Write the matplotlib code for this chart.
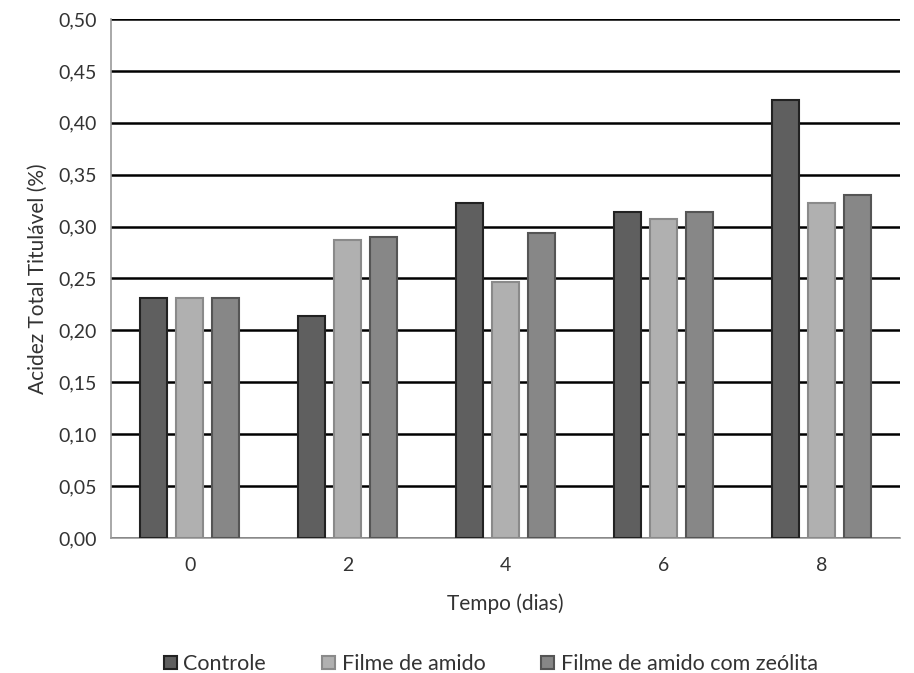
import matplotlib
matplotlib.use("Agg")
import matplotlib.pyplot as plt
import numpy as np

plt.rcParams['font.family'] = ['Lato', 'DejaVu Sans']

# data
dias = ["0", "2", "4", "6", "8"]
controle = [0.231, 0.214, 0.323, 0.314, 0.422]
filme = [0.231, 0.287, 0.247, 0.307, 0.323]
zeolita = [0.231, 0.290, 0.294, 0.314, 0.330]

series = [("Controle", controle, "#5f5f5f", "#222222"),
          ("Filme de amido", filme, "#b0b0b0", "#8a8a8a"),
          ("Filme de amido com zeólita", zeolita, "#878787", "#555555")]

fig = plt.figure(figsize=(9.14, 6.73), dpi=100)
ax = fig.add_axes([0.1214, 0.2006, 0.8636, 0.7712])

x = np.arange(len(dias))
w = 0.17
step = 0.228
for i, (nome, vals, cor, borda) in enumerate(series):
    ax.bar(x + (i - 1) * step, vals, width=w, color=cor, edgecolor=borda,
           linewidth=1.5, label=nome, zorder=3)

ax.set_xlim(-0.5, len(dias) - 0.5)
ax.set_ylim(0, 0.5)
yt = np.arange(0, 0.501, 0.05)
ax.set_yticks(yt)
ax.set_yticklabels([("%.2f" % v).replace(".", ",") for v in yt], fontsize=14, color="#333333")
ax.set_xticks(x)
ax.set_xticklabels(dias, fontsize=14, color="#333333")
ax.tick_params(axis="y", length=0, pad=10)
ax.tick_params(axis="x", length=0, pad=14)
ax.yaxis.grid(True, color="black", linewidth=1.8, zorder=0)
ax.set_axisbelow(True)
for s in ["top", "right"]:
    ax.spines[s].set_visible(False)
ax.spines["left"].set_color("#999999")
ax.spines["bottom"].set_color("#999999")
ax.spines["left"].set_linewidth(1.2)
ax.spines["bottom"].set_linewidth(1.2)

ax.set_xlabel("Tempo (dias)", fontsize=15, color="#333333", labelpad=14)
ax.set_ylabel("Acidez Total Titulável (%)", fontsize=15, color="#333333", labelpad=8)

fig.legend(*ax.get_legend_handles_labels(), loc="center", bbox_to_anchor=(0.537, 0.013),
           ncol=3, frameon=False, fontsize=15.5, handlelength=0.6, handleheight=0.6,
           handletextpad=0.3, columnspacing=2.6, labelcolor="#333333")

fig.savefig("out.png", dpi=100)
